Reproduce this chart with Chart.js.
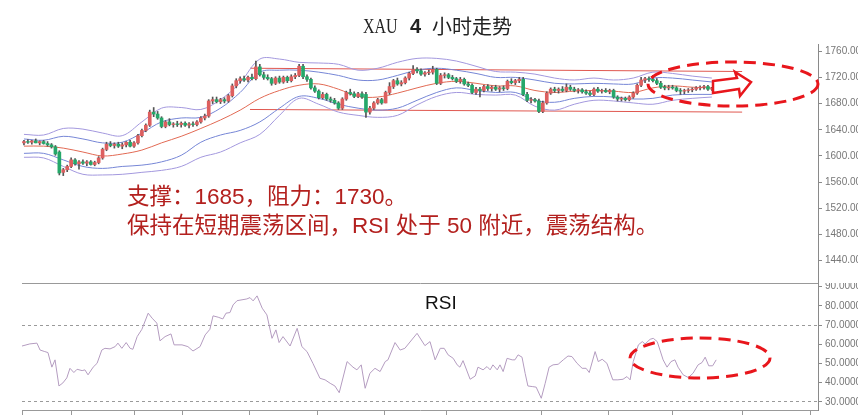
<!DOCTYPE html>
<html>
<head>
<meta charset="utf-8">
<script src="https://cdn.jsdelivr.net/npm/chart.js@4.4.0/dist/chart.umd.min.js"></script>
<style>
  html, body { margin: 0; padding: 0; background: #fff; }
  #wrap { position: relative; width: 858px; height: 420px; overflow: hidden; }
  .box { position: absolute; left: 0; width: 858px; }
  #priceBox { top: 0; height: 290px; }
  #rsiBox { top: 283px; height: 137px; }
  .txt { position: absolute; white-space: nowrap; }
  #tXau { left: 363px; top: 15px; font: 20px/22px "Liberation Serif", serif; color: #222; transform: scaleX(0.8); transform-origin: 0 0; }
  #tFour { left: 410px; top: 15px; font: bold 20px/22px "Liberation Sans", sans-serif; color: #222; }
  #tRest { left: 432px; top: 15px; font: 20px/22px "Noto Sans CJK SC", sans-serif; color: #222; }
  #note { left: 127px; top: 182px; font: 22.5px/29px "Liberation Sans", "Noto Sans CJK SC", sans-serif; color: #b3201e; }
  #rsiLabel { left: 425px; top: 293px; font: 19px/19px "Liberation Sans", sans-serif; color: #111; }
  #marks { position: absolute; left: 0; top: 0; }
</style>
</head>
<body>
<div id="wrap">
  <div class="box" id="priceBox"><canvas id="price"></canvas></div>
  <div class="box" id="rsiBox"><canvas id="rsi"></canvas></div>
  <div class="txt" id="tXau">XAU</div>
  <div class="txt" id="tFour">4</div>
  <div class="txt" id="tRest">小时走势</div>
  <div class="txt" id="note">支撑：1685，阻力：1730。<br>保持在短期震荡区间，RSI 处于 50 附近，震荡结构。</div>
  <div class="txt" id="rsiLabel">RSI</div>
  <svg id="marks" width="858" height="420">
    <ellipse cx="733" cy="84" rx="85" ry="22" fill="none" stroke="#e8161c" stroke-width="3" stroke-dasharray="12 7"/>
    <polygon points="713,81 737,78 735,72 751,82 740,96 739,89 713,93" fill="#fff" stroke="#e8161c" stroke-width="2.5" stroke-linejoin="miter"/>
    <ellipse cx="700" cy="358" rx="70" ry="20" fill="none" stroke="#e8161c" stroke-width="3" stroke-dasharray="12 7"/>
  </svg>
</div>
<script>
// 4h candles, one per bar index
const opens = [1620,1622,1621,1623,1620,1622,1619,1617,1614,1606,
  1575,1579,1584,1594,1588,1591,1589,1591,1587,1590,
  1597,1610,1618,1616,1618,1615,1617,1621,1615,1620,
  1631,1639,1647,1667,1664,1658,1645,1652,1648,1649,
  1648,1650,1647,1649,1648,1652,1658,1661,1684,1686,
  1683,1686,1684,1692,1707,1715,1718,1716,1720,1718,
  1736,1724,1720,1718,1711,1719,1713,1720,1715,1721,
  1723,1737,1721,1717,1704,1699,1689,1694,1687,1685,
  1681,1673,1687,1697,1695,1691,1695,1694,1667,1673,
  1681,1686,1681,1697,1706,1715,1710,1712,1719,1726,
  1732,1730,1725,1727,1728,1732,1711,1723,1724,1720,
  1718,1714,1717,1710,1708,1697,1702,1700,1706,1703,
  1705,1702,1704,1703,1714,1712,1715,1717,1694,1685,
  1686,1684,1668,1681,1696,1702,1700,1702,1700,1705,
  1702,1700,1701,1698,1696,1694,1702,1699,1700,1698,
  1700,1690,1687,1688,1686,1690,1696,1708,1716,1718,
  1717,1715,1711,1705,1704,1705,1704,1700,1699,1700,
  1701,1702,1704,1705,1706,1702];
const highs = [1624,1625,1624,1626,1623,1624,1622,1619,1616,1608,
  1581,1586,1597,1596,1593,1594,1593,1593,1592,1599,
  1612,1621,1622,1620,1621,1620,1622,1624,1622,1633,
  1641,1649,1670,1674,1668,1660,1654,1657,1651,1653,
  1652,1652,1651,1652,1654,1660,1664,1686,1690,1690,
  1688,1689,1694,1710,1718,1721,1722,1722,1725,1745,
  1740,1728,1724,1720,1721,1722,1722,1722,1724,1726,
  1740,1740,1724,1719,1707,1701,1697,1696,1690,1688,
  1683,1689,1699,1702,1698,1697,1698,1697,1676,1683,
  1688,1688,1699,1712,1717,1719,1715,1721,1728,1738,
  1735,1733,1729,1731,1737,1734,1726,1727,1726,1723,
  1720,1720,1719,1713,1710,1705,1705,1708,1709,1707,
  1708,1706,1707,1716,1718,1717,1720,1720,1697,1689,
  1688,1687,1684,1698,1704,1705,1704,1706,1710,1708,
  1705,1703,1703,1701,1699,1704,1705,1702,1703,1702,
  1702,1692,1690,1690,1692,1698,1710,1720,1720,1721,
  1723,1718,1714,1708,1708,1708,1706,1703,1702,1703,
  1704,1706,1707,1708,1708,1705];
const lows = [1617,1619,1618,1620,1617,1618,1615,1612,1601,1571,
  1570,1576,1582,1586,1580,1587,1585,1586,1585,1588,
  1595,1608,1614,1612,1613,1611,1614,1614,1613,1618,
  1629,1637,1645,1660,1656,1643,1643,1646,1644,1645,
  1644,1645,1643,1645,1646,1650,1655,1659,1680,1681,
  1680,1681,1682,1690,1704,1711,1714,1713,1716,1716,
  1722,1717,1716,1708,1709,1711,1711,1712,1713,1718,
  1721,1718,1714,1702,1697,1687,1687,1685,1682,1679,
  1671,1671,1685,1693,1689,1689,1688,1659,1664,1671,
  1679,1679,1681,1694,1703,1708,1707,1710,1716,1724,
  1727,1723,1722,1724,1725,1709,1709,1719,1718,1716,
  1712,1711,1708,1706,1695,1694,1690,1698,1700,1699,
  1700,1698,1700,1701,1710,1709,1712,1692,1683,1681,
  1682,1666,1666,1679,1694,1697,1696,1698,1698,1700,
  1698,1696,1696,1694,1692,1692,1697,1696,1697,1695,
  1688,1684,1684,1684,1684,1688,1694,1706,1712,1714,
  1713,1709,1703,1701,1701,1702,1698,1694,1695,1697,
  1698,1700,1701,1702,1700,1700];
const closes = [1622,1621,1623,1620,1622,1619,1617,1614,1603,1574,
  1579,1584,1594,1588,1591,1589,1591,1587,1590,1597,
  1610,1618,1616,1618,1615,1617,1621,1615,1620,1631,
  1639,1647,1667,1664,1658,1645,1652,1648,1649,1648,
  1650,1647,1649,1648,1652,1658,1661,1684,1686,1683,
  1686,1684,1692,1707,1715,1718,1716,1720,1718,1736,
  1724,1720,1718,1711,1719,1713,1720,1715,1721,1723,
  1737,1721,1717,1704,1699,1689,1694,1687,1685,1681,
  1673,1687,1697,1695,1691,1695,1690,1667,1673,1681,
  1686,1681,1697,1706,1715,1710,1712,1719,1726,1732,
  1730,1725,1727,1728,1732,1711,1723,1724,1720,1718,
  1714,1717,1710,1708,1697,1702,1700,1706,1703,1705,
  1702,1704,1703,1714,1712,1715,1717,1694,1685,1686,
  1684,1668,1681,1696,1702,1700,1702,1700,1705,1702,
  1700,1701,1698,1696,1694,1702,1699,1700,1698,1700,
  1690,1687,1688,1686,1690,1696,1708,1716,1718,1717,
  1715,1711,1705,1704,1705,1704,1700,1699,1700,1701,
  1702,1704,1705,1706,1702,1703];

// band lines read every 5 bars
const bandIdx = [0,5,10,15,20,25,30,35,40,45,50,55,60,65,70,75,80,85,90,95,
  100,105,110,115,120,125,130,135,140,145,150,155,160,165,170,175];
const upperOuter = [1633,1632,1642,1641,1635,1631,1652,1673,1674,1671,1686,1712,1748,1748,1743,1742,1740,1731,1734,1743,
  1749,1749,1745,1737,1729,1728,1725,1719,1716,1719,1716,1719,1728,1726,1722,1719];
const upperInner = [1626,1624,1630,1626,1620,1621,1635,1652,1658,1659,1673,1697,1728,1731,1731,1728,1723,1716,1716,1723,
  1731,1734,1731,1726,1720,1720,1716,1711,1710,1711,1710,1710,1719,1719,1716,1713];
const midLine = [1615,1615,1612,1606,1600,1603,1609,1620,1630,1642,1655,1670,1688,1700,1708,1710,1702,1691,1690,1696,
  1704,1711,1714,1711,1707,1707,1700,1697,1699,1700,1699,1697,1704,1707,1705,1704];
const lowerInner = [1604,1604,1594,1584,1581,1584,1586,1591,1601,1621,1632,1639,1652,1673,1691,1688,1679,1673,1670,1673,
  1685,1697,1704,1700,1697,1697,1685,1682,1688,1691,1690,1687,1688,1693,1694,1694];
const lowerOuter = [1598,1597,1584,1572,1571,1572,1575,1578,1584,1598,1606,1620,1633,1662,1688,1679,1667,1662,1659,1662,
  1678,1691,1697,1694,1693,1693,1676,1670,1679,1685,1684,1681,1679,1685,1688,1690];

// range channel
const channelX = [57.5, 182.7];
const channelTop = [1734, 1729];
const channelBottom = [1671, 1667];

// RSI samples (bar position, value)
const rsiPos = [-0.5,1.5,3.3,4.1,5.3,6.1,7.1,7.9,8.9,9.9,
  10.9,11.7,12.7,13.5,14.8,15.5,16.3,17.6,18.6,19.8,
  20.6,21.9,23.2,23.9,24.9,26,27,27.7,28.8,30,
  31.6,32.6,33.8,34.6,35.9,37.4,38.2,40.2,41.7,43,
  44.8,46.1,47.3,48.1,49.4,50.6,51.4,52.4,53.2,54.2,
  56.7,57.5,58.3,59.3,60.6,61.8,63.1,64.1,64.9,65.9,
  67.7,69.5,70.7,72,73.5,75.3,76.6,77.9,79.1,80.2,
  82.2,83.7,84.7,85.8,86.8,88,89.3,90.6,91.9,92.6,
  94.4,95.7,96.9,100,102,103.3,104.6,105.9,106.9,107.9,
  109.2,110.2,110.9,111.7,113.5,114.8,115.5,116.8,117.8,118.6,
  119.3,120.4,121.1,121.9,122.9,124.2,124.9,125.7,126.7,127.5,
  128.2,129.3,130.3,131.6,132.6,133.6,134.6,135.9,137.2,138.4,
  139.4,140.7,142,143,143.8,145.3,146.1,147.1,148.3,149.8,
  151.1,152.4,153.4,154.2,155,156.3,157.3,158,159.3,160.1,
  161.1,161.8,162.6,163.6,164.6,165.6,166.4,167.7,169,170.2,
  171.5,172.5,173.3,174.2,175.2,176.1];
const rsiValues = [59.1,60.2,60.6,57,56.2,55.7,48.1,51.9,38.3,39.9,
  42.5,47.5,45.3,47,46.3,46.7,44.1,48.1,50.1,57,
  57.9,57.6,58.8,60.6,57.9,60.9,57.9,57.4,64,67.8,
  76.2,73.6,71,61.8,64,65.4,59.7,59.7,58.8,56.5,
  58.8,64.9,67.8,74.8,74.1,73.2,76.2,76.5,80.5,82.7,
  83.6,84.3,82.6,85.2,78.8,75.3,63.1,67.5,60.9,64,
  59.1,68.3,58.8,56.2,50.1,42.3,41.5,39.7,38.3,34.8,
  51,48.1,46.7,49.3,37.1,44.9,47.5,45.8,51,51.9,
  60.9,57,57.9,65.7,59.3,61.4,51.9,57.9,57.9,54.5,
  52.7,49.3,48.1,51.5,41.8,43.5,48.1,46.7,48.4,46.7,
  49.3,46.7,49.3,45.8,52.7,51.9,51.9,54.5,53.3,44.9,
  38.3,38,37.7,31.9,39.7,48.1,49.3,49.6,51.9,53.9,
  53.6,50.1,47.5,47.5,45.3,56.2,51,52.2,50.1,41.5,
  41.5,41.8,43.2,41.5,51,59.7,61.4,60.2,62.6,63.1,
  61.4,57,51.9,48.1,51,51.9,48.1,44.1,42.7,44.9,
  49.3,50.5,53.3,48.8,48.8,51.9];

const priceTicks = [1440,1480,1520,1560,1600,1640,1680,1720,1760];
const rsiTicks = [30,40,50,60,70,80,90];
const timeTicks = [-0.5,12,28,40.4,57.5,74.6,91.6,107.6,131.6,148.8,164.9,182.7,200];

const UP = '#dd5f5f', DOWN = '#25a86a';
const OUTER = 'rgb(163,152,222)', INNER = 'rgb(118,134,214)', MID = 'rgb(226,106,84)';
const AXIS = '#8a8a8a';

const idx = closes.map((c, i) => i);
const bodies = idx.map(i => ({ x: i, y: [opens[i], closes[i]] }));
const wicks = idx.map(i => ({ x: i, y: [lows[i], highs[i]] }));
const bodyColors = idx.map(i => closes[i] >= opens[i] ? UP : DOWN);
const pts = (xs, ys) => xs.map((x, k) => ({ x: x, y: ys[k] }));

function lineSet(xs, ys, color, order) {
    return {
        type: 'line',
        data: pts(xs, ys),
        borderColor: color,
        borderWidth: 1,
        pointRadius: 0,
        tension: 0.35,
        order: order
    };
}

// the side axes must not push the plot area around
function fixY(s) {
    s.width = 40;
    s.paddingTop = 0;
    s.paddingBottom = 0;
}
function fixX(h) {
    return s => {
        s.height = h;
        s.paddingLeft = 0;
        s.paddingRight = 0;
    };
}

new Chart(document.getElementById('price'), {
    type: 'bar',
    data: {
        datasets: [{
            data: bodies,
            backgroundColor: bodyColors,
            barThickness: 3,
            grouped: false,
            order: 0
        }, {
            data: wicks,
            backgroundColor: '#555',
            barThickness: 1,
            grouped: false,
            order: 1
        },
            lineSet(bandIdx, upperOuter, OUTER, 3),
            lineSet(bandIdx, upperInner, INNER, 3),
            lineSet(bandIdx, midLine, MID, 2),
            lineSet(bandIdx, lowerInner, INNER, 3),
            lineSet(bandIdx, lowerOuter, OUTER, 3),
            { type: 'line', data: pts(channelX, channelTop), borderColor: '#e0574f', borderWidth: 1, pointRadius: 0, order: 4 },
            { type: 'line', data: pts(channelX, channelBottom), borderColor: '#e0574f', borderWidth: 1, pointRadius: 0, order: 4 }
        ]
    },
    options: {
        animation: false,
        maintainAspectRatio: false,
        layout: { padding: { left: 22, top: 44, right: 0, bottom: 0 }, autoPadding: false },
        plugins: { legend: { display: false }, tooltip: { enabled: false } },
        scales: {
            x: {
                type: 'linear',
                min: -0.5,
                max: 202,
                offset: false,
                ticks: { display: false },
                grid: { drawOnChartArea: false, drawTicks: false, offset: false },
                border: { color: '#999' },
                afterFit: fixX(7)
            },
            y: {
                position: 'right',
                min: 1406,
                max: 1771,
                afterBuildTicks: s => { s.ticks = priceTicks.map(v => ({ value: v })); },
                afterFit: fixY,
                ticks: {
                    color: '#777',
                    padding: 3,
                    font: { size: 10, family: 'Liberation Sans' },
                    callback: v => Number(v).toFixed(2)
                },
                grid: { drawOnChartArea: false, tickLength: 4, color: AXIS },
                border: { color: AXIS }
            }
        }
    }
});

new Chart(document.getElementById('rsi'), {
    type: 'line',
    data: {
        datasets: [{
            data: pts(rsiPos, rsiValues),
            borderColor: '#b49cc0',
            borderWidth: 1,
            pointRadius: 0,
            tension: 0
        }]
    },
    options: {
        animation: false,
        maintainAspectRatio: false,
        layout: { padding: { left: 22, top: 0, right: 0, bottom: 0 }, autoPadding: false },
        plugins: { legend: { display: false }, tooltip: { enabled: false } },
        scales: {
            x: {
                type: 'linear',
                min: -0.5,
                max: 202,
                afterBuildTicks: s => { s.ticks = timeTicks.map(v => ({ value: v })); },
                ticks: { display: false },
                grid: { drawOnChartArea: false, tickLength: 5, color: '#999' },
                border: { color: '#999' },
                afterFit: fixX(10)
            },
            y: {
                position: 'right',
                min: 25.8,
                max: 91.9,
                afterBuildTicks: s => { s.ticks = rsiTicks.map(v => ({ value: v })); },
                afterFit: fixY,
                ticks: {
                    color: '#777',
                    padding: 3,
                    font: { size: 10, family: 'Liberation Sans' },
                    callback: v => Number(v).toFixed(4)
                },
                grid: {
                    color: c => (c.tick && (c.tick.value === 70 || c.tick.value === 30)) ? '#9a9a9a' : 'rgba(0,0,0,0)',
                    tickColor: AXIS,
                    tickLength: 4,
                    tickBorderDash: []
                },
                border: { color: AXIS, dash: [3, 3] }
            }
        }
    }
});
</script>
</body>
</html>
